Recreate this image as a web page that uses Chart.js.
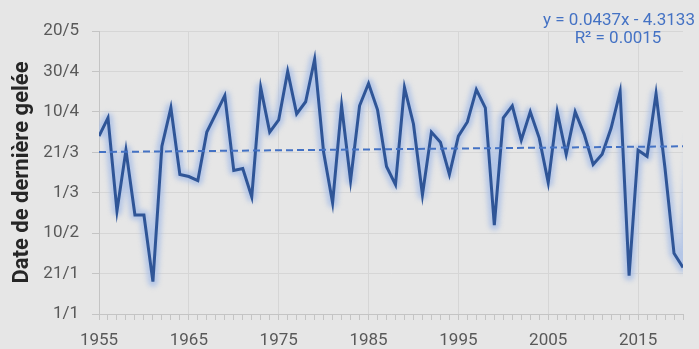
<!DOCTYPE html>
<html>
<head>
<meta charset="utf-8">
<script src="https://cdn.jsdelivr.net/npm/chart.js@4.4.1/dist/chart.umd.min.js"></script>
<style>
html,body{margin:0;padding:0;background:#e6e6e6;}
#wrap{width:699px;height:349px;position:relative;}
</style>
</head>
<body>
<div id="wrap"><canvas id="c" width="699" height="349"></canvas></div>
<script>
// ---- data ----
const years = [1955,1956,1957,1958,1959,1960,1961,1962,1963,1964,1965,1966,1967,1968,1969,
  1970,1971,1972,1973,1974,1975,1976,1977,1978,1979,1980,1981,1982,1983,1984,1985,1986,1987,
  1988,1989,1990,1991,1992,1993,1994,1995,1996,1997,1998,1999,2000,2001,2002,2003,2004,2005,
  2006,2007,2008,2009,2010,2011,2012,2013,2014,2015,2016,2017,2018,2019,2020,2021];
// day number of the last frost (1 = 1/1, 21 = 21/1, ... 141 = 20/5)
const frostDays = [89,98,52,82,50,50,17,84,103,70,69,67,91,100,109,
  72,73,59,113,91,97,121,100,106,127,81,56,104,67,104,115,102,74,
  65,113,95,60,91,86,70,89,96,112,103,45,98,104,87,101,88,66,
  101,80,101,90,75,80,93,111,20,82,79,110,73,31,24,90];
const xTickYears = [1955,1965,1975,1985,1995,2005,2015];
const yTickValues = [1,21,41,61,81,101,121,141];
const yTickLabels = ['1/1','21/1','10/2','1/3','21/3','10/4','30/4','20/5'];
const trendSlope = 0.0437;
const trendIntercept = -4.3133;
const trendText = ['y = 0.0437x - 4.3133', 'R\u00B2 = 0.0015'];
const yTitle = 'Date de derni\u00E8re gel\u00E9e';
const xMin = 1955, xMax = 2020;

// ---- chart ----
const series = years.map((y, i) => ({x: y, y: frostDays[i]}));
const trend = [xMin, xMax].map(x => ({x: x, y: trendSlope * x + trendIntercept}));
const yearTicks = years.filter(y => y >= xMin && y <= xMax);

const bgPlugin = {
  id: 'bg',
  beforeDraw(chart) {
    const ctx = chart.ctx;
    ctx.save();
    ctx.fillStyle = '#e6e6e6';
    ctx.fillRect(0, 0, chart.width, chart.height);
    ctx.restore();
  }
};

const glowPlugin = {
  id: 'glow',
  beforeDatasetsDraw(chart) {
    const meta = chart.getDatasetMeta(0);
    const a = chart.chartArea;
    const ctx = chart.ctx;
    ctx.save();
    ctx.beginPath();
    ctx.rect(a.left, a.top, a.right - a.left, a.bottom - a.top);
    ctx.clip();
    ctx.filter = 'blur(2.5px)';
    ctx.strokeStyle = 'rgba(170,192,230,0.85)';
    ctx.lineWidth = 10;
    ctx.lineJoin = 'round';
    ctx.beginPath();
    meta.data.forEach((p, i) => { if (i === 0) ctx.moveTo(p.x, p.y); else ctx.lineTo(p.x, p.y); });
    ctx.stroke();
    ctx.restore();
  }
};

const trendLabelPlugin = {
  id: 'trendLabel',
  afterDraw(chart) {
    const ctx = chart.ctx;
    ctx.save();
    ctx.fillStyle = '#4472c4';
    ctx.font = '17px Roboto';
    ctx.textAlign = 'center';
    ctx.textBaseline = 'middle';
    ctx.fillText(trendText[0], 619, 21);
    ctx.fillText(trendText[1], 618, 39);
    ctx.restore();
  }
};

new Chart(document.getElementById('c'), {
  type: 'scatter',
  data: {
    datasets: [
      {
        data: series,
        showLine: true,
        borderColor: '#2f5597',
        borderWidth: 3,
        pointRadius: 0,
        pointHoverRadius: 0,
        tension: 0,
        order: 1
      },
      {
        data: trend,
        showLine: true,
        borderColor: '#4472c4',
        borderWidth: 2,
        borderDash: [7, 4],
        pointRadius: 0,
        pointHoverRadius: 0,
        order: 0
      }
    ]
  },
  options: {
    responsive: false,
    animation: false,
    devicePixelRatio: 1,
    layout: {padding: {top: 31, right: 16, left: 0, bottom: 0}},
    plugins: {legend: {display: false}, tooltip: {enabled: false}},
    scales: {
      x: {
        type: 'linear',
        min: xMin,
        max: xMax,
        afterBuildTicks(scale) { scale.ticks = yearTicks.map(v => ({value: v})); },
        afterFit(scale) { scale.height = 35; },
        ticks: {
          autoSkip: false,
          maxRotation: 0,
          padding: 11,
          color: '#595959',
          font: {family: 'Roboto', size: 17},
          callback: v => xTickYears.includes(v) ? String(v) : ''
        },
        grid: {
          color: c => (c.tick && xTickYears.includes(c.tick.value)) ? '#d6d6d6' : 'rgba(0,0,0,0)',
          tickColor: '#c4c4c4',
          tickLength: 6
        },
        border: {color: '#c4c4c4', width: 1}
      },
      y: {
        type: 'linear',
        min: 1,
        max: 141,
        afterBuildTicks(scale) { scale.ticks = yTickValues.map(v => ({value: v})); },
        afterFit(scale) { scale.width = 99; },
        ticks: {
          padding: 13,
          color: '#595959',
          font: {family: 'Roboto', size: 17},
          callback: v => yTickLabels[yTickValues.indexOf(v)]
        },
        grid: {color: '#d6d6d6', tickColor: '#c4c4c4', tickLength: 7},
        border: {color: '#c4c4c4', width: 1},
        title: {
          display: true,
          text: yTitle,
          color: '#262626',
          font: {family: 'Roboto', size: 22, weight: 'bold'},
          padding: {top: 9, bottom: 0}
        }
      }
    }
  },
  plugins: [bgPlugin, glowPlugin, trendLabelPlugin]
});
</script>
</body>
</html>
